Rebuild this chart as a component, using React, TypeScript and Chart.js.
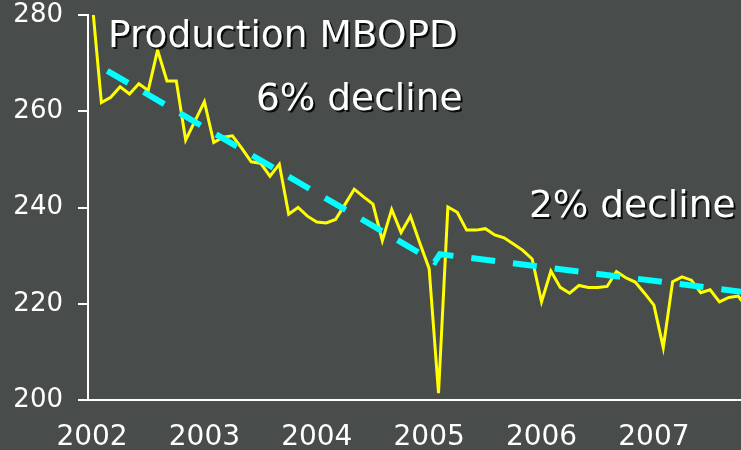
import React, { useEffect, useRef } from 'react';
import { Chart, registerables } from 'chart.js';

Chart.register(...registerables);

// Monthly production (MBOPD), index 0 = Jan 2002
const production: number[] = [
  283, 261.8, 262.9, 265.1, 263.6, 265.7, 264.3, 272.7, 266.3, 266.3, 254.0, 258.0,
  262.0, 253.5, 254.6, 254.9, 252.3, 249.5, 249.2, 246.5, 249.0, 238.6, 240.0, 238.2,
  237.0, 236.8, 237.5, 240.6, 243.8, 242.2, 240.7, 233.1, 239.6, 234.8, 238.2, 232.6,
  227.3, 201.4, 240.1, 239.0, 235.3, 235.3, 235.6, 234.3, 233.7, 232.4, 231.1, 229.3,
  220.4, 226.8, 223.4, 222.2, 223.8, 223.4, 223.4, 223.6, 226.7, 225.4, 224.5, 222.2,
  219.7, 210.9, 224.6, 225.6, 224.9, 222.3, 222.9, 220.4, 221.3, 221.6, 219.0,
];

// Trend line (month index, value)
const trendMonths: number[] = [1.63, 36.6, 37.15, 69.3];
const trendValues: number[] = [268.4, 228.7, 230.3, 222.5];

// Axis ticks
const yearLabels: string[] = ['2002', '2003', '2004', '2005', '2006', '2007'];
const yearTickMonths: number[] = [0, 12, 24, 36, 48, 60];
const yTicks: number[] = [200, 220, 240, 260, 280];

// Text annotations (anchored in data coordinates: month index, value)
const noteTexts: string[] = ['Production MBOPD', '6% decline', '2% decline'];
const noteMonths: number[] = [1.71, 17.5, 46.65];
const noteValues: number[] = [273.35, 260.26, 238.0];

const BG = '#484c4b';
const FONT = '"DejaVu Sans", Verdana, sans-serif';

const bgPlugin = {
  id: 'bgFill',
  beforeDraw(chart: any) {
    const { ctx, width, height } = chart;
    ctx.save();
    ctx.fillStyle = BG;
    ctx.fillRect(0, 0, width, height);
    ctx.restore();
  },
};

const notesPlugin = {
  id: 'notes',
  afterDatasetsDraw(chart: any) {
    const { ctx, scales } = chart;
    ctx.save();
    ctx.font = `37.5px ${FONT}`;
    ctx.textAlign = 'left';
    ctx.textBaseline = 'alphabetic';
    noteTexts.forEach((t, i) => {
      const x = scales.x.getPixelForValue(noteMonths[i]);
      const y = scales.y.getPixelForValue(noteValues[i]);
      ctx.fillStyle = 'rgba(0,0,0,0.85)';
      ctx.fillText(t, x + 2, y + 2);
      ctx.fillStyle = '#ffffff';
      ctx.fillText(t, x, y);
    });
    ctx.restore();
  },
};

export default function App() {
  const canvasRef = useRef<HTMLCanvasElement | null>(null);

  useEffect(() => {
    document.body.style.margin = '0';
    document.body.style.background = BG;
    const canvas = canvasRef.current;
    if (!canvas) return;

    const chart = new Chart(canvas, {
      type: 'line',
      data: {
        datasets: [
          {
            label: 'Trend',
            data: trendMonths.map((m, i) => ({ x: m, y: trendValues[i] })),
            borderColor: '#00ffff',
            borderWidth: 6,
            borderDash: [24, 18],
            borderCapStyle: 'butt',
            pointRadius: 0,
            tension: 0,
            fill: false,
          },
          {
            label: 'Production',
            data: production.map((v, i) => ({ x: i, y: v })),
            borderColor: '#ffff00',
            borderWidth: 3,
            borderJoinStyle: 'miter',
            pointRadius: 0,
            tension: 0,
            fill: false,
          },
        ],
      },
      options: {
        responsive: false,
        animation: false,
        events: [],
        layout: { padding: { top: 15, right: 0, bottom: 0, left: 0 } },
        plugins: {
          legend: { display: false },
          tooltip: { enabled: false },
          title: { display: false },
        },
        scales: {
          x: {
            type: 'linear',
            min: -0.43,
            max: 69.3,
            afterBuildTicks: (s: any) => {
              s.ticks = yearTickMonths.map((v) => ({ value: v }));
            },
            afterFit: (s: any) => {
              s.height = 50;
              s.paddingLeft = 0;
              s.paddingRight = 0;
            },
            border: { display: true, color: '#ffffff', width: 2 },
            grid: { display: true, drawOnChartArea: false, drawTicks: false },
            ticks: {
              color: '#ffffff',
              font: { family: FONT, size: 28, lineHeight: 1 },
              padding: 24,
              maxRotation: 0,
              autoSkip: false,
              callback: (v: any) => {
                const k = yearTickMonths.indexOf(Number(v));
                return k >= 0 ? yearLabels[k] : '';
              },
            },
          },
          y: {
            type: 'linear',
            min: 200,
            max: 280,
            afterBuildTicks: (s: any) => {
              s.ticks = yTicks.map((v) => ({ value: v }));
            },
            afterFit: (s: any) => {
              s.width = 88;
              s.paddingTop = 0;
              s.paddingBottom = 0;
            },
            border: { display: true, color: '#ffffff', width: 2 },
            grid: {
              display: true,
              drawOnChartArea: false,
              drawTicks: true,
              tickLength: 10,
              color: '#ffffff',
              lineWidth: 2,
            },
            ticks: {
              color: '#ffffff',
              font: { family: FONT, size: 26, lineHeight: 1 },
              padding: 15,
            },
          },
        },
      },
      plugins: [bgPlugin, notesPlugin],
    } as any);

    return () => {
      chart.destroy();
    };
  }, []);

  return (
    <div style={{ width: 741, height: 450, background: BG }}>
      <canvas ref={canvasRef} width={741} height={450} style={{ display: 'block' }} />
    </div>
  );
}
